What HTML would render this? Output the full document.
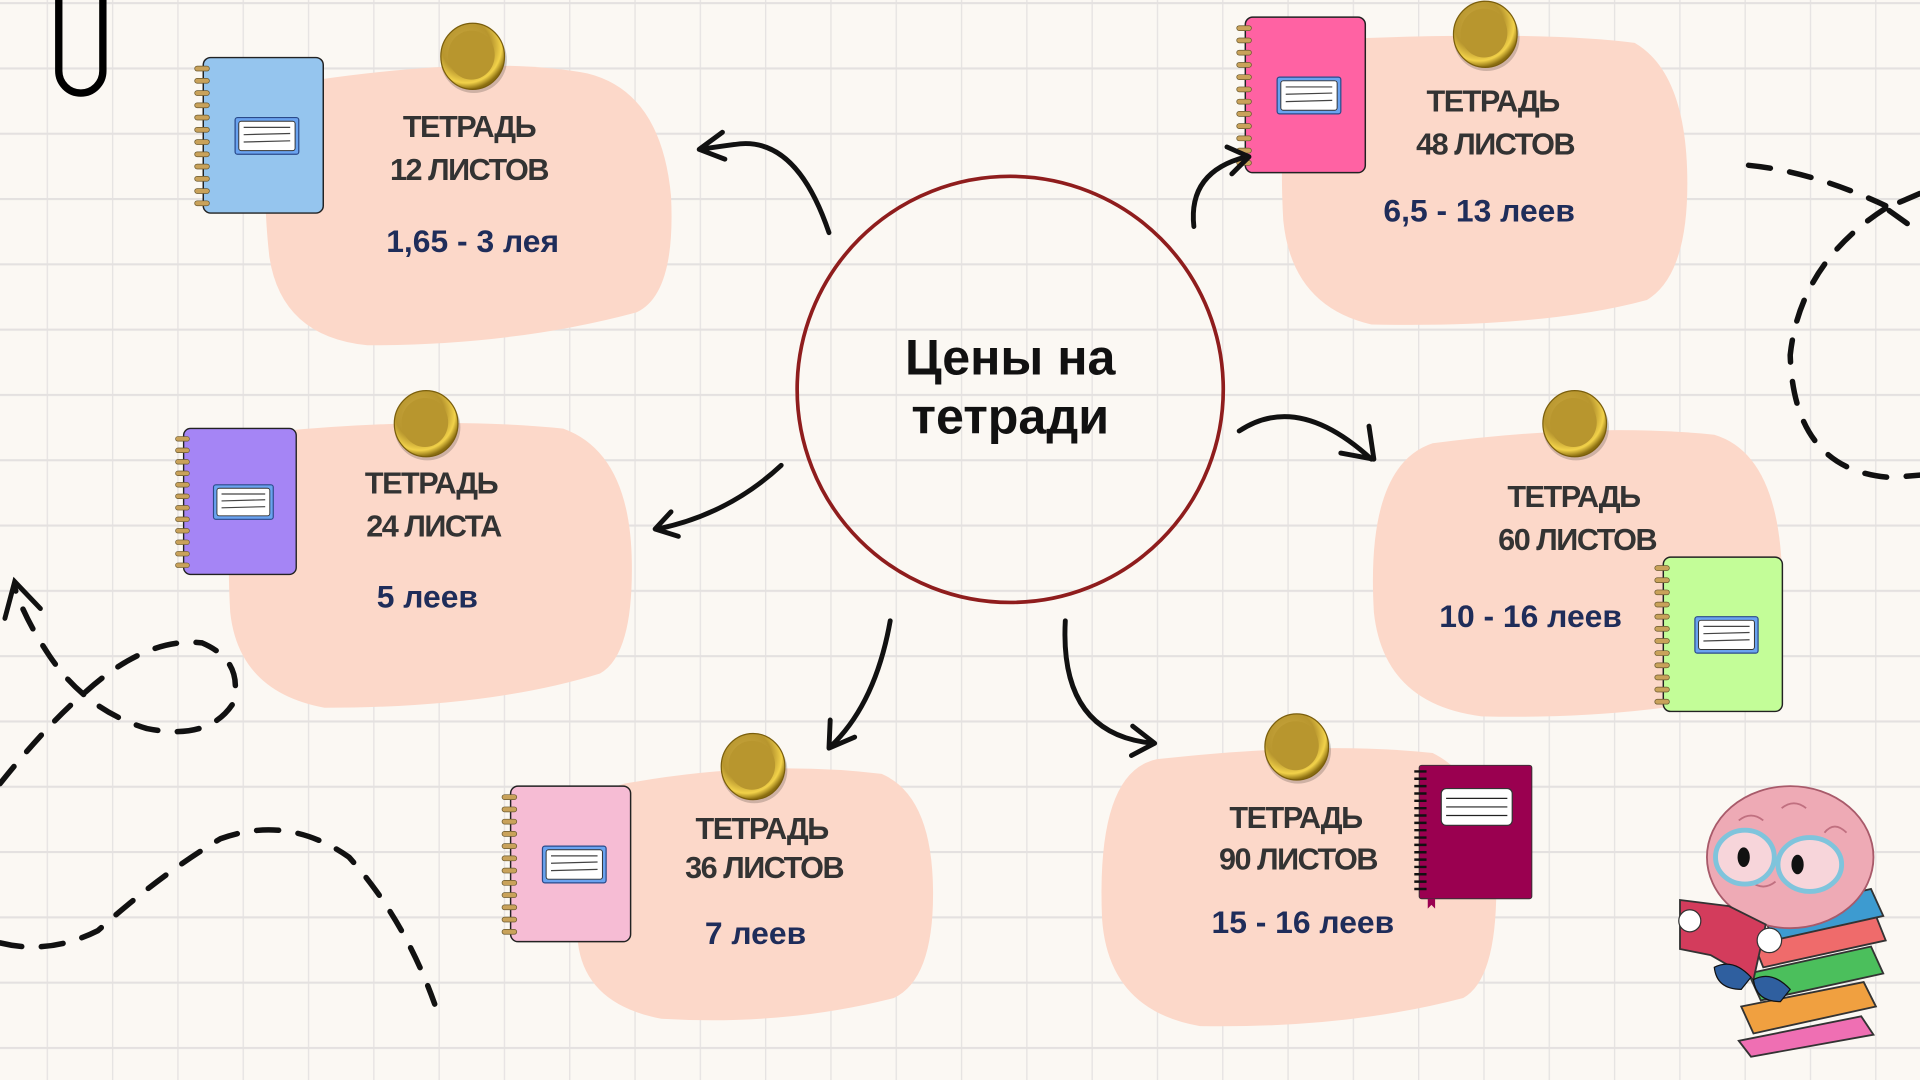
<!DOCTYPE html>
<html><head><meta charset="utf-8"><style>
html,body{margin:0;padding:0;width:1920px;height:1080px;overflow:hidden;background:#fbf8f3}
svg{display:block}
.t{font-family:"Liberation Sans","DejaVu Sans",sans-serif;font-weight:bold;fill:#333;font-size:25px;letter-spacing:-1.2px;text-anchor:middle}
.p{font-family:"Liberation Sans","DejaVu Sans",sans-serif;font-weight:bold;fill:#1f2d5a;font-size:26px;text-anchor:middle}
</style></head><body>
<svg width="1920" height="1080" viewBox="0 0 1568 882" xmlns="http://www.w3.org/2000/svg">
<defs>
<pattern id="g" x="38.1" y="1.7" width="53.33" height="53.33" patternUnits="userSpaceOnUse">
<line x1="0" y1="0" x2="0" y2="53.33" stroke="#e6e3e2" stroke-width="2.2"/>
<line x1="0" y1="0" x2="53.33" y2="0" stroke="#e4e1e0" stroke-width="3.4"/>
</pattern>
<radialGradient id="gold" cx="40%" cy="35%" r="65%">
<stop offset="0" stop-color="#c9a740"/><stop offset="0.6" stop-color="#b8962e"/><stop offset="0.85" stop-color="#f2d24a"/><stop offset="1" stop-color="#8a6d10"/>
</radialGradient>
<symbol id="nb" viewBox="0 0 104 130" overflow="visible">
<rect x="4" y="1" width="98" height="127" rx="6" fill="currentColor" stroke="#222" stroke-width="1.2"/>
<g fill="#c9a25a" stroke="#6b5a30" stroke-width="0.6">
<rect x="-3" y="8" width="12" height="4" rx="2"/><rect x="-3" y="18" width="12" height="4" rx="2"/><rect x="-3" y="28" width="12" height="4" rx="2"/><rect x="-3" y="38" width="12" height="4" rx="2"/><rect x="-3" y="48" width="12" height="4" rx="2"/><rect x="-3" y="58" width="12" height="4" rx="2"/><rect x="-3" y="68" width="12" height="4" rx="2"/><rect x="-3" y="78" width="12" height="4" rx="2"/><rect x="-3" y="88" width="12" height="4" rx="2"/><rect x="-3" y="98" width="12" height="4" rx="2"/><rect x="-3" y="108" width="12" height="4" rx="2"/><rect x="-3" y="118" width="12" height="4" rx="2"/>
</g>
<rect x="30" y="50" width="52" height="30" rx="2" fill="#6aa3f0" stroke="#2a4a8a" stroke-width="1"/>
<rect x="33" y="53" width="46" height="24" rx="2" fill="#fff" stroke="#333" stroke-width="0.8"/>
<line x1="37" y1="58" x2="75" y2="58" stroke="#444" stroke-width="1"/><line x1="37" y1="64" x2="75" y2="63" stroke="#444" stroke-width="1"/><line x1="37" y1="70" x2="75" y2="69" stroke="#444" stroke-width="1"/>
</symbol>
<symbol id="pin" viewBox="-28 -28 56 56" overflow="visible">
<ellipse cx="1" cy="3" rx="27" ry="27" fill="#000" opacity="0.18"/>
<ellipse cx="0" cy="0" rx="26" ry="27" fill="url(#gold)" stroke="#7a5e0c" stroke-width="1"/>
<ellipse cx="-1" cy="-1" rx="19" ry="20" fill="#b8962e"/>
</symbol>
</defs>
<rect width="1568" height="882" fill="#fbf8f3"/>
<rect width="1568" height="882" fill="url(#g)"/>

<path d="M48 0 V58 A18 18 0 0 0 84 58 V0" fill="none" stroke="#000" stroke-width="6"/>

<g fill="none" stroke="#111" stroke-width="4.5" stroke-linecap="round" stroke-dasharray="18 16">
<path d="M1428 135 Q1480 140 1540 168"/>
<path d="M1568 158 L1540 170 L1568 190"/>
<path d="M1540 170 Q1470 215 1462 290 Q1465 385 1545 390 L1568 388"/>
<path d="M0 640 Q40 590 70 565 Q120 520 165 525 Q200 540 190 575 Q170 605 120 595 Q70 580 40 535 Q20 505 12 480"/>
<path d="M0 770 Q40 780 80 760 Q130 715 180 685 Q235 665 285 700 Q330 750 355 820"/>
</g>
<path d="M4 505 L12 475 L33 497" fill="none" stroke="#111" stroke-width="4" stroke-linecap="round"/>

<g fill="#fcd8c9">
<path d="M260 65 Q400 45 480 60 Q540 75 548 160 Q552 240 520 255 Q420 282 300 282 Q230 275 220 210 Q205 75 260 65Z"/>
<path d="M1090 32 Q1260 25 1335 35 Q1378 60 1378 150 Q1378 225 1345 245 Q1260 268 1120 265 Q1055 250 1048 180 Q1040 40 1090 32Z"/>
<path d="M230 352 Q360 340 460 350 Q515 370 516 460 Q517 535 490 550 Q400 578 265 578 Q195 565 188 500 Q180 360 230 352Z"/>
<path d="M1170 362 Q1300 345 1400 355 Q1450 370 1455 460 Q1458 540 1420 568 Q1320 588 1210 585 Q1130 575 1122 500 Q1115 380 1170 362Z"/>
<path d="M510 640 Q620 620 720 632 Q762 650 762 730 Q762 800 730 815 Q640 838 540 832 Q478 820 472 770 Q465 650 510 640Z"/>
<path d="M945 620 Q1080 605 1170 615 Q1220 640 1222 725 Q1222 800 1195 815 Q1100 840 980 838 Q905 825 900 750 Q895 630 945 620Z"/>
</g>

<use href="#nb" x="162" y="46" width="104" height="130" color="#95c5ee"/>
<use href="#nb" x="1012" y="13" width="106" height="130" color="#ff62a3"/>
<use href="#nb" x="145" y="349" width="100" height="122" color="#a585f5"/>
<use href="#nb" x="1354" y="454" width="104" height="129" color="#c3fd98"/>
<use href="#nb" x="413" y="641" width="104" height="130" color="#f6bcd4"/>
<g>
<rect x="1159" y="625" width="92" height="109" rx="2" fill="#9a0050" stroke="#333" stroke-width="0.8"/>
<g stroke="#111" stroke-width="2">
<path d="M1155 630h10M1155 636h10M1155 642h10M1155 648h10M1155 654h10M1155 660h10M1155 666h10M1155 672h10M1155 678h10M1155 684h10M1155 690h10M1155 696h10M1155 702h10M1155 708h10M1155 714h10M1155 720h10M1155 726h10"/>
</g>
<path d="M1166 734v8l3-3 3 3v-8z" fill="#9a0050"/>
<rect x="1177" y="644" width="58" height="30" rx="4" fill="#fff" stroke="#333" stroke-width="1"/>
<path d="M1181 652h50M1181 659h50M1181 666h50" stroke="#222" stroke-width="1"/>
</g>

<use href="#pin" x="358" y="18" width="56" height="56"/>
<use href="#pin" x="1185" y="0" width="56" height="56"/>
<use href="#pin" x="320" y="318" width="56" height="56"/>
<use href="#pin" x="1258" y="318" width="56" height="56"/>
<use href="#pin" x="587" y="598" width="56" height="56"/>
<use href="#pin" x="1031" y="582" width="56" height="56"/>

<text class="t" x="383" y="112">ТЕТРАДЬ</text><text class="t" x="383" y="147">12 ЛИСТОВ</text><text class="p" x="386" y="206">1,65 - 3 лея</text>
<text class="t" x="1219" y="91">ТЕТРАДЬ</text><text class="t" x="1221" y="126">48 ЛИСТОВ</text><text class="p" x="1208" y="181">6,5 - 13 леев</text>
<text class="t" x="352" y="403">ТЕТРАДЬ</text><text class="t" x="354" y="438">24 ЛИСТА</text><text class="p" x="349" y="496">5 леев</text>
<text class="t" x="1285" y="414">ТЕТРАДЬ</text><text class="t" x="1288" y="449">60 ЛИСТОВ</text><text class="p" x="1250" y="512">10 - 16 леев</text>
<text class="t" x="622" y="685">ТЕТРАДЬ</text><text class="t" x="624" y="717">36 ЛИСТОВ</text><text class="p" x="617" y="771">7 леев</text>
<text class="t" x="1058" y="676">ТЕТРАДЬ</text><text class="t" x="1060" y="710">90 ЛИСТОВ</text><text class="p" x="1064" y="762">15 - 16 леев</text>

<circle cx="825" cy="318" r="174" fill="none" stroke="#8f1d1d" stroke-width="3"/>
<text x="825" y="306" text-anchor="middle" font-family="Liberation Sans, DejaVu Sans, sans-serif" font-weight="bold" font-size="41" fill="#111">Цены на</text>
<text x="825" y="354" text-anchor="middle" font-family="Liberation Sans, DejaVu Sans, sans-serif" font-weight="bold" font-size="41" fill="#111">тетради</text>

<g fill="none" stroke="#111" stroke-width="4" stroke-linecap="round" stroke-linejoin="round">
<path d="M677 190 Q650 110 600 118 Q585 120 572 122"/><path d="M590 108 L571 122 L592 130"/>
<path d="M975 185 Q970 140 1018 128"/><path d="M1002 120 L1020 128 L1006 142"/>
<path d="M638 380 Q595 420 537 432"/><path d="M548 418 L535 432 L554 438"/>
<path d="M1012 352 Q1060 320 1120 375"/><path d="M1118 348 L1122 375 L1095 370"/>
<path d="M727 507 Q715 575 678 610"/><path d="M678 588 L677 611 L698 602"/>
<path d="M870 507 Q865 600 942 607"/><path d="M925 593 L943 607 L924 617"/>
</g>

<g>
<path d="M1420 850 l100 -20 l10 15 l-100 18z" fill="#ef6fb3" stroke="#333" stroke-width="1.5"/>
<path d="M1422 822 l100 -20 l10 20 l-100 22z" fill="#f0a040" stroke="#333" stroke-width="1.5"/>
<path d="M1428 795 l100 -22 l10 22 l-100 22z" fill="#4bbf5c" stroke="#333" stroke-width="1.5"/>
<path d="M1432 770 l100 -22 l8 20 l-100 22z" fill="#ef6b6b" stroke="#333" stroke-width="1.5"/>
<path d="M1440 746 l88 -20 l10 22 l-90 20z" fill="#3d9bd0" stroke="#333" stroke-width="1.5"/>
<ellipse cx="1462" cy="700" rx="68" ry="58" fill="#eeaab5" stroke="#a85a6a" stroke-width="1.5"/>
<path d="M1420 670 q10-8 20 0 M1455 660 q10-8 20 0 M1490 680 q8 -10 18 0 M1430 720 q10 8 20 0" fill="none" stroke="#c07080" stroke-width="1.5"/>
<ellipse cx="1425" cy="700" rx="24" ry="22" fill="#fff" fill-opacity="0.5" stroke="#7fc4dc" stroke-width="4"/>
<ellipse cx="1478" cy="706" rx="26" ry="22" fill="#fff" fill-opacity="0.5" stroke="#7fc4dc" stroke-width="4"/>
<ellipse cx="1424" cy="700" rx="5" ry="8" fill="#111"/><ellipse cx="1468" cy="706" rx="5" ry="8" fill="#111"/>
<path d="M1372 735 l40 5 l30 15 l-10 45 l-35 -20 l-25 -5z" fill="#d33c5c" stroke="#333" stroke-width="1.5"/>
<circle cx="1380" cy="752" r="9" fill="#fff" stroke="#333"/><circle cx="1445" cy="768" r="10" fill="#fff" stroke="#333"/>
<path d="M1400 790 q15 -8 30 8 l-8 10 q-20 0 -22 -18z" fill="#2f5f9f" stroke="#111"/>
<path d="M1432 800 q15 -8 30 8 l-8 10 q-20 0 -22 -18z" fill="#2f5f9f" stroke="#111"/>
</g>
</svg>
</body></html>
